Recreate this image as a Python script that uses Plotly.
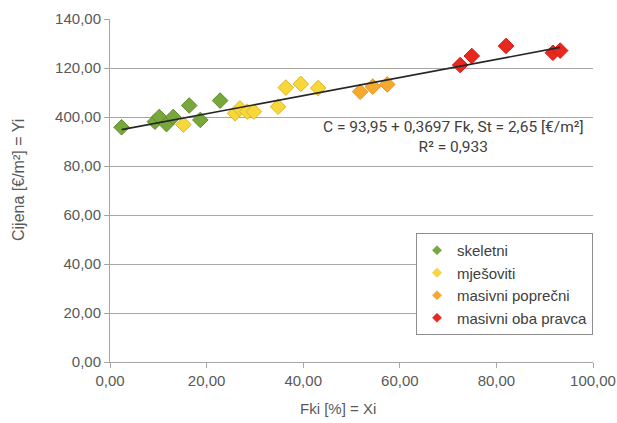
import plotly.graph_objects as go

# Data
skeletni_x = [2.4, 9.3, 10.2, 11.7, 13.1, 16.4, 18.7, 22.8]
skeletni_y = [95.8, 98.1, 100.0, 97.1, 100.0, 104.7, 98.8, 106.7]

mjesoviti_x = [15.2, 25.9, 26.9, 28.4, 29.8, 34.8, 36.4, 39.5, 43.1]
mjesoviti_y = [96.9, 101.5, 103.5, 102.2, 102.2, 104.2, 112.0, 113.5, 111.8]

poprecni_x = [51.8, 54.4, 57.4]
poprecni_y = [110.3, 112.4, 113.3]

oba_x = [72.5, 74.9, 82.0, 91.7, 93.2]
oba_y = [121.2, 124.9, 129.0, 126.2, 127.1]

# Trendline C = 93.95 + 0.3697 Fk
intercept = 93.95
slope = 0.3697
trend_x = [2.4, 93.2]
trend_y = [intercept + slope * v for v in trend_x]

x_ticks = [0, 20, 40, 60, 80, 100]
x_ticktext = ["0,00", "20,00", "40,00", "60,00", "80,00", "100,00"]
y_ticks = [0, 20, 40, 60, 80, 100, 120, 140]
y_ticktext = ["0,00", "20,00", "40,00", "60,00", "80,00", "400,00", "120,00", "140,00"]

fig = go.Figure()

series = [
    ("skeletni", skeletni_x, skeletni_y, "#78a83c", "#5f8a2c"),
    ("mješoviti", mjesoviti_x, mjesoviti_y, "#f7d83a", "#e0b52a"),
    ("masivni poprečni", poprecni_x, poprecni_y, "#f5a92e", "#e59420"),
    ("masivni oba pravca", oba_x, oba_y, "#e8271f", "#d21c16"),
]
for name, xs, ys, col, lcol in series:
    fig.add_trace(go.Scatter(
        x=xs, y=ys, mode="markers", name=name, showlegend=False,
        marker=dict(symbol="diamond", size=12, color=col,
                    line=dict(color=lcol, width=1)),
    ))

fig.add_trace(go.Scatter(
    x=trend_x, y=trend_y, mode="lines", showlegend=False,
    line=dict(color="#262626", width=1.6),
))

# legend entries with small symbols (as in the reference legend)
for name, xs, ys, col, lcol in series:
    fig.add_trace(go.Scatter(
        x=[None], y=[None], mode="markers", name=name,
        marker=dict(symbol="diamond", size=7, color=col,
                    line=dict(color=lcol, width=0.5)),
    ))

axis_common = dict(
    showline=True, linecolor="#a6a6a6", linewidth=1,
    ticks="outside", ticklen=5, tickcolor="#a6a6a6",
    tickfont=dict(family="Liberation Sans, Arial", size=15, color="#595959"),
    zeroline=False, automargin=False,
)

fig.update_xaxes(range=[0, 100], tickvals=x_ticks, ticktext=x_ticktext,
                 showgrid=False, **axis_common)
fig.update_yaxes(range=[0, 140], tickvals=y_ticks, ticktext=y_ticktext,
                 showgrid=True, gridcolor="#a6a6a6", gridwidth=1,
                 **axis_common)

fig.add_annotation(
    xref="paper", yref="paper", x=(453 - 110) / 483, y=(362 - 137) / 343,
    xanchor="center", yanchor="middle",
    text="C = 93,95 + 0,3697 Fk, St = 2,65 [€/m²]<br>R² = 0,933",
    showarrow=False, align="center",
    font=dict(family="Roboto", size=15.5, color="#404040"),
)

fig.add_annotation(
    xref="paper", yref="paper", x=(338 - 110) / 483, y=-(408 - 362) / 343,
    xanchor="center", yanchor="middle",
    text="Fki [%] = Xi", showarrow=False,
    font=dict(family="Liberation Sans, Arial", size=15, color="#595959"),
)
fig.add_annotation(
    xref="paper", yref="paper", x=-(110 - 18) / 483, y=(362 - 180) / 343,
    xanchor="center", yanchor="middle",
    text="Cijena [€/m²] = Yi", showarrow=False, textangle=-90,
    font=dict(family="Liberation Sans, Arial", size=16, color="#595959"),
)

fig.update_layout(
    width=617, height=423,
    margin=dict(l=110, r=24, t=19, b=61),
    paper_bgcolor="white", plot_bgcolor="white",
    showlegend=True,
    legend=dict(
        x=(416 - 110) / 483, y=(362 - 233) / 343, xanchor="left", yanchor="top",
        bordercolor="#8c8c8c", borderwidth=1, bgcolor="white",
        font=dict(family="Liberation Sans, Arial", size=15, color="#404040"),
        itemsizing="trace", tracegroupgap=0, itemwidth=30,
    ),
)

# remove the browser's default 8px body margin so the figure fills the window
fig.write_html(
    "out.html",
    config={"displayModeBar": False},
    post_script="document.body.style.margin='0';document.body.style.overflow='hidden';",
)
